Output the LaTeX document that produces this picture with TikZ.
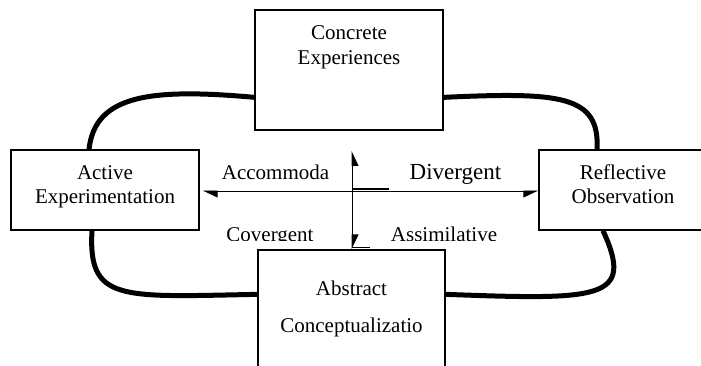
\documentclass[tikz,border=0pt]{standalone}
\usepackage{fontspec}
\setmainfont{Liberation Serif}
\usetikzlibrary{arrows.meta}

\tikzset{
  stage/.style={draw, line width=1.3pt, inner sep=0pt},
  stagetext/.style={anchor=base, inner sep=0pt, font=\fontsize{21}{24}\selectfont},
  quadtext/.style={anchor=base, inner sep=0pt, font=\fontsize{21}{24}\selectfont},
  loopline/.style={line width=5pt},
  axis/.style={line width=0.9pt, -{Stealth[length=14pt,width=13pt,inset=0pt,harpoon]}},
  axisswap/.style={line width=0.9pt, -{Stealth[length=14pt,width=13pt,inset=0pt,harpoon,swap]}}
}

\begin{document}
\begin{tikzpicture}[x=1pt,y=-1pt]
  \useasboundingbox (0,0) rectangle (701,366);
  \clip (0,0) rectangle (701,366);

  % the four stages
  \node[stage, minimum width=188pt, minimum height=120pt] (ce) at (349,70) {};
  \node[stage, minimum width=188pt, minimum height=80pt] (ae) at (105,190) {};
  \node[stage, minimum width=168pt, minimum height=80pt] (ro) at (623,190) {};
  \node[stage, minimum width=187pt, minimum height=140pt] (ac) at (351.5,320) {};

  \node[stagetext] (ce1) at (349,40) {Concrete};
  \node[stagetext] (ce2) at (349,65) {Experiences};
  \node[stagetext] (ae1) at (105,180) {Active};
  \node[stagetext] (ae2) at (105,204) {Experimentation};
  \node[stagetext] (ro1) at (623,180) {Reflective};
  \node[stagetext] (ro2) at (623,204) {Observation};
  \node[stagetext] (ac1) at (351.5,295) {Abstract};
  \node[stagetext] (ac2) at (351.5,332) {Conceptualizatio};

  % cycle
  \draw[loopline] ([yshift=-88pt]ce.north west) .. controls (150,88) and (95,95) .. ([xshift=-16pt]ae.north);
  \draw[loopline] ([yshift=-88pt]ce.north east) .. controls (560,92) and (600,95) .. ([xshift=-26pt]ro.north);
  \draw[loopline] ([xshift=-13pt]ae.south) .. controls (88,302) and (120,297) .. ([yshift=-45pt]ac.north west);
  \draw[loopline] ([xshift=-20pt]ro.south) .. controls (635,300) and (600,300) .. ([yshift=-45pt]ac.north east);

  % axes
  \coordinate (hub) at (352,191);
  \coordinate (uptip) at (352,151);
  \draw[axis, shorten >=3pt] (hub) -- (ae.east |- hub);
  \draw[axisswap] (hub) -- (ro.west |- hub);
  \draw[axisswap] (hub) -- (uptip);
  \draw[axis] (hub) -- (hub |- ac.north);
  \draw[line width=1.3pt] ([yshift=2pt]hub) -- ++(37,0);
  \draw[line width=1.3pt] ([yshift=2pt]hub |- ac.north) -- ++(18,0);

  \node[quadtext] (acc) at (275.5,180) {Accommoda};
  \node[quadtext, font=\fontsize{23}{26}\selectfont] (div) at (455.5,180) {Divergent};
  \begin{scope}
    \clip (0,0) rectangle (701,240);
    \node[quadtext] (cov) at (270,241) {Covergent};
    \node[quadtext] (ass) at (444,241) {Assimilative};
  \end{scope}
\end{tikzpicture}
\end{document}
